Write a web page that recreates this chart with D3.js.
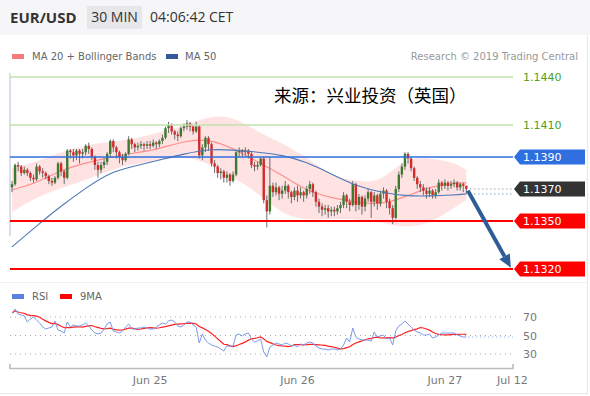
<!DOCTYPE html>
<html>
<head>
<meta charset="utf-8">
<script src="https://cdn.jsdelivr.net/npm/d3@7"></script>
<style>
  body { margin: 0; background: #fff; }
  svg text { font-family: "DejaVu Sans", sans-serif; }
  .head text { font-family: "Open Sans", sans-serif; }
</style>
</head>
<body>
<svg id="chart" width="590" height="396"></svg>
<script>
// ---- data (30 min bars, EUR/USD) ----
const firstOpen = 1.1371;
const closes = [
  1.1373,1.1385,1.1384,1.1380,1.1382,1.1380,1.1377,1.1376,1.1384,1.1381,
  1.1380,1.1378,1.1375,1.1374,1.1377,1.1386,1.1381,1.1377,1.1394,1.1393,
  1.1391,1.1394,1.1392,1.1393,1.1397,1.1395,1.1390,1.1385,1.1382,1.1385,
  1.1387,1.1392,1.1400,1.1396,1.1393,1.1390,1.1388,1.1392,1.1401,1.1398,
  1.1396,1.1397,1.1398,1.1397,1.1398,1.1397,1.1399,1.1398,1.1400,1.1402,
  1.1408,1.1410,1.1406,1.1404,1.1403,1.1408,1.1409,1.1411,1.1409,1.1406,
  1.1409,1.1391,1.1396,1.1402,1.1398,1.1386,1.1384,1.1380,1.1381,1.1377,
  1.1379,1.1375,1.1379,1.1393,1.1394,1.1393,1.1394,1.1392,1.1385,1.1384,
  1.1385,1.1389,1.1363,1.1356,1.1372,1.1368,1.1371,1.1367,1.1369,1.1372,
  1.1368,1.1365,1.1369,1.1366,1.1368,1.1366,1.1370,1.1373,1.1368,1.1362,
  1.1359,1.1357,1.1358,1.1356,1.1357,1.1356,1.1358,1.1360,1.1366,1.1362,
  1.1360,1.1373,1.1360,1.1365,1.1359,1.1364,1.1368,1.1362,1.1366,1.1361,
  1.1367,1.1369,1.1362,1.1358,1.1352,1.1370,1.1379,1.1384,1.1392,1.1389,
  1.1383,1.1377,1.1373,1.1371,1.1369,1.1367,1.1369,1.1366,1.1368,1.1374,
  1.1372,1.1374,1.1372,1.1373,1.1374,1.1371,1.1373,1.1372,1.1370
];
const highs = [
  1.1375,1.1386,1.1387,1.1385,1.1384,1.1383,1.1381,1.1379,1.1386,1.1385,
  1.1383,1.1381,1.1379,1.1377,1.1378,1.1387,1.1387,1.1382,1.1395,1.1395,
  1.1395,1.1395,1.1395,1.1395,1.1398,1.1399,1.1396,1.1391,1.1387,1.1387,
  1.1389,1.1393,1.1401,1.1401,1.1397,1.1394,1.1392,1.1393,1.1403,1.1402,
  1.1399,1.1399,1.1400,1.1399,1.1400,1.1400,1.1401,1.1400,1.1401,1.1404,
  1.1409,1.1412,1.1411,1.1407,1.1406,1.1409,1.1411,1.1413,1.1412,1.1410,
  1.1412,1.1410,1.1398,1.1403,1.1403,1.1399,1.1388,1.1385,1.1383,1.1382,
  1.1381,1.1380,1.1381,1.1394,1.1396,1.1395,1.1396,1.1395,1.1393,1.1387,
  1.1387,1.1390,1.1390,1.1366,1.1390,1.1374,1.1374,1.1372,1.1372,1.1375,
  1.1373,1.1369,1.1371,1.1372,1.1371,1.1369,1.1372,1.1375,1.1374,1.1369,
  1.1364,1.1361,1.1360,1.1360,1.1359,1.1359,1.1360,1.1362,1.1368,1.1367,
  1.1364,1.1375,1.1374,1.1367,1.1366,1.1366,1.1370,1.1369,1.1368,1.1367,
  1.1369,1.1371,1.1370,1.1364,1.1360,1.1372,1.1381,1.1386,1.1393,1.1393,
  1.1390,1.1384,1.1378,1.1375,1.1373,1.1371,1.1371,1.1370,1.1370,1.1376,
  1.1375,1.1376,1.1375,1.1375,1.1376,1.1375,1.1374,1.1374,1.1372
];
const lows = [
  1.1368,1.1372,1.1381,1.1378,1.1379,1.1378,1.1375,1.1374,1.1375,1.1379,
  1.1377,1.1376,1.1373,1.1372,1.1373,1.1376,1.1378,1.1373,1.1376,1.1389,
  1.1387,1.1388,1.1386,1.1389,1.1391,1.1392,1.1388,1.1382,1.1377,1.1380,
  1.1383,1.1385,1.1390,1.1393,1.1389,1.1386,1.1385,1.1387,1.1391,1.1395,
  1.1393,1.1394,1.1395,1.1394,1.1395,1.1395,1.1396,1.1395,1.1396,1.1398,
  1.1401,1.1405,1.1404,1.1401,1.1400,1.1402,1.1406,1.1407,1.1406,1.1404,
  1.1405,1.1389,1.1388,1.1393,1.1394,1.1384,1.1380,1.1377,1.1376,1.1374,
  1.1374,1.1372,1.1374,1.1378,1.1390,1.1390,1.1391,1.1389,1.1383,1.1381,
  1.1382,1.1384,1.1361,1.1346,1.1354,1.1365,1.1366,1.1363,1.1364,1.1367,
  1.1364,1.1361,1.1363,1.1362,1.1364,1.1362,1.1364,1.1367,1.1365,1.1359,
  1.1355,1.1353,1.1354,1.1352,1.1353,1.1353,1.1354,1.1355,1.1358,1.1358,
  1.1356,1.1359,1.1356,1.1357,1.1354,1.1356,1.1362,1.1352,1.1359,1.1357,
  1.1359,1.1364,1.1358,1.1354,1.1348,1.1351,1.1368,1.1377,1.1382,1.1386,
  1.1381,1.1375,1.1370,1.1368,1.1366,1.1364,1.1365,1.1364,1.1364,1.1367,
  1.1369,1.1370,1.1369,1.1370,1.1371,1.1369,1.1369,1.1368,1.1367
];

// indicator lines, read every 8 bars
const maIdx   = [0,8,16,24,32,40,48,56,64,72,80,88,96,104,112,120,128,136,144,148];
const ma20    = [1.13694,1.13738,1.13819,1.13863,1.13900,1.13925,1.13950,1.14000,1.14013,1.13956,
                 1.13869,1.13788,1.13688,1.13644,1.13619,1.13600,1.13650,1.13713,1.13738,1.13738];
const ma50    = [1.13338,1.13469,1.13594,1.13706,1.13806,1.13844,1.13881,1.13919,1.13950,1.13944,
                 1.13931,1.13913,1.13869,1.13794,1.13719,1.13681,1.13656,1.13656,1.13663,1.13669];
const bbUpper = [1.13831,1.13869,1.13931,1.13975,1.13994,1.14013,1.14056,1.14094,1.14156,1.14156,
                 1.14056,1.13988,1.13900,1.13781,1.13750,1.13738,1.13894,1.13894,1.13869,1.13819];
const bbLower = [1.13556,1.13650,1.13706,1.13756,1.13819,1.13856,1.13881,1.13906,1.13863,1.13769,
                 1.13681,1.13538,1.13506,1.13513,1.13513,1.13494,1.13456,1.13481,1.13581,1.13631];

const rsi = [
  74.3,78.6,73.2,72.2,71.1,64.6,67.8,70.0,66.8,63.5,
  59.2,57.0,58.1,59.2,65.7,55.9,54.9,52.7,64.6,59.2,
  61.4,60.3,60.3,61.4,63.5,60.3,55.9,52.7,51.6,52.7,
  57.0,62.4,64.6,54.9,53.8,52.7,54.9,59.2,62.4,57.0,
  57.0,58.1,58.1,59.2,58.1,57.0,57.0,59.2,61.4,63.5,
  62.4,65.7,66.8,64.6,60.3,59.2,61.4,64.6,64.6,61.4,
  59.2,41.9,51.6,45.1,41.9,39.7,38.6,37.6,35.4,33.2,
  38.6,38.6,38.6,50.5,51.6,49.5,51.6,52.7,46.2,43.0,
  44.1,46.2,32.2,26.8,37.6,39.7,41.9,40.8,39.7,41.9,
  40.8,38.6,39.7,37.6,40.8,39.7,41.9,43.0,41.9,38.6,
  36.5,35.4,35.4,34.3,35.4,35.4,34.3,35.4,39.7,47.3,
  43.0,58.1,48.4,46.2,45.1,45.1,45.1,44.1,53.8,48.4,
  49.5,50.5,46.2,47.3,39.7,54.9,60.3,62.4,65.7,62.4,
  59.2,55.9,53.8,52.7,50.5,50.5,51.6,47.3,48.4,50.5,
  52.7,52.7,52.7,52.7,52.7,50.5,49.5,48.4,48.4
];

const greenLevels = [1.1440, 1.1410];
const tagLevels   = [1.1390, 1.1370, 1.1350, 1.1320];
const rsiLevels   = [70, 50, 30];
const dateTicks   = [45, 93, 141, 163];
const dateLabels  = ["Jun 25", "Jun 26", "Jun 27", "Jul 12"];
const arrowFrom   = [148.5, 1.13690];
const arrowTo     = [162.5, 1.13208];

// ---- styles ----
const tagColors = ["#2f6fdf", "#333333", "#ff0000", "#ff0000"];
const upColor = "#3c7a30", downColor = "#d42a2a", wickColor = "#6b6b6b";

const svg = d3.select("#chart");
const x  = d3.scaleLinear().domain([0, 163]).range([12, 512.4]);
const y  = d3.scaleLinear().domain([1.1320, 1.1440]).range([269, 77]);
const yr = d3.scaleLinear().domain([30, 70]).range([354, 317]);
const x0 = 10, x1 = 513;

// header
const head = svg.append("g").attr("class", "head");
head.append("rect").attr("width", 590).attr("height", 35).attr("fill", "#f6f5f7");
head.append("text").attr("x", 10).attr("y", 23).attr("font-size", 15).attr("font-weight", "bold")
  .attr("fill", "#333").text("EUR/USD");
head.append("rect").attr("x", 87).attr("y", 6).attr("width", 55).attr("height", 23).attr("fill", "#e7e6e9");
head.append("text").attr("x", 114.5).attr("y", 22).attr("text-anchor", "middle").attr("font-size", 14)
  .attr("fill", "#333").text("30 MIN");
head.append("text").attr("x", 150).attr("y", 22).attr("font-size", 14).attr("fill", "#333").text("04:06:42 CET");

// frame
svg.append("line").attr("x1", 587.5).attr("x2", 587.5).attr("y1", 35).attr("y2", 394).attr("stroke", "#e8e8ea");
svg.append("line").attr("x1", 0).attr("x2", 588).attr("y1", 393.5).attr("y2", 393.5).attr("stroke", "#e8e8ea");
svg.append("line").attr("x1", 0).attr("x2", 588).attr("y1", 282.5).attr("y2", 282.5).attr("stroke", "#f0f0f2");

// legend
svg.append("rect").attr("x", 12).attr("y", 54).attr("width", 12).attr("height", 5).attr("fill", "#f47c7c");
svg.append("text").attr("x", 32).attr("y", 60).attr("font-size", 10).attr("fill", "#666").text("MA 20 + Bollinger Bands");
svg.append("rect").attr("x", 166).attr("y", 54).attr("width", 12).attr("height", 5).attr("fill", "#34589a");
svg.append("text").attr("x", 185).attr("y", 60).attr("font-size", 10).attr("fill", "#666").text("MA 50");
svg.append("text").attr("x", 578).attr("y", 60).attr("text-anchor", "end").attr("font-size", 10)
  .attr("fill", "#999").text("Research \u00a9 2019 Trading Central");

// left axis
svg.append("line").attr("x1", x0).attr("x2", x0).attr("y1", 73).attr("y2", 236).attr("stroke", "#b4bfd2");

// bollinger band + moving averages
const ind = maIdx.map((k, j) => ({k, ma20: ma20[j], ma50: ma50[j], up: bbUpper[j], lo: bbLower[j]}));
svg.append("path").datum(ind)
  .attr("d", d3.area().curve(d3.curveBasis).x(d => x(d.k)).y0(d => y(d.lo)).y1(d => y(d.up)))
  .attr("fill", "#ffdede").attr("opacity", 0.85);
svg.append("path").datum(ind)
  .attr("d", d3.line().curve(d3.curveBasis).x(d => x(d.k)).y(d => y(d.ma20)))
  .attr("fill", "none").attr("stroke", "#ff8f8f").attr("stroke-width", 1.2);

// candles
const bars = closes.map((c, i) => ({i, o: i ? closes[i - 1] : firstOpen, c, h: highs[i], l: lows[i]}));
const cg = svg.append("g");
cg.selectAll("line").data(bars).join("line")
  .attr("x1", d => x(d.i)).attr("x2", d => x(d.i))
  .attr("y1", d => y(Math.max(d.h, d.o, d.c))).attr("y2", d => y(Math.min(d.l, d.o, d.c)))
  .attr("stroke", wickColor).attr("stroke-width", 1);
cg.selectAll("rect").data(bars).join("rect")
  .attr("x", d => x(d.i) - 1.2).attr("width", 2.4)
  .attr("y", d => y(Math.max(d.o, d.c)))
  .attr("height", d => Math.max(1, Math.abs(y(d.o) - y(d.c))))
  .attr("fill", d => d.c >= d.o ? upColor : downColor);

svg.append("path").datum(ind)
  .attr("d", d3.line().curve(d3.curveBasis).x(d => x(d.k)).y(d => y(d.ma50)))
  .attr("fill", "none").attr("stroke", "#4f78b8").attr("stroke-width", 1.1);

// levels
svg.selectAll(".green").data(greenLevels).join("line").attr("class", "green")
  .attr("x1", x0).attr("x2", x1).attr("y1", d => y(d)).attr("y2", d => y(d))
  .attr("stroke", "#c2e0ad").attr("stroke-width", 1.5);
svg.selectAll(".glab").data(greenLevels).join("text").attr("class", "glab")
  .attr("x", 523).attr("y", d => y(d) + 4).attr("font-size", 11).attr("fill", "#4fa21a")
  .text(d => d.toFixed(4));

const lastClose = closes[closes.length - 1];
const lastMa50 = ma50[ma50.length - 1];
svg.append("line").attr("x1", x(148) + 4).attr("x2", 514).attr("y1", y(lastClose)).attr("y2", y(lastClose))
  .attr("stroke", "#777").attr("stroke-dasharray", "1,3");
svg.append("line").attr("x1", x(148) + 4).attr("x2", 514).attr("y1", y(lastMa50)).attr("y2", y(lastMa50))
  .attr("stroke", "#4f78b8").attr("stroke-dasharray", "1,3");

tagLevels.forEach((p, k) => {
  const yy = y(p);
  if (k !== 1) {
    svg.append("line").attr("x1", x0).attr("x2", x1).attr("y1", yy).attr("y2", yy)
      .attr("stroke", tagColors[k]).attr("stroke-width", k === 0 ? 1.3 : 2.2);
  }
  svg.append("path")
    .attr("d", `M514,${yy} L520,${yy - 7.5} L585,${yy - 7.5} L585,${yy + 7.5} L520,${yy + 7.5} Z`)
    .attr("fill", tagColors[k]);
  svg.append("text").attr("x", 523).attr("y", yy + 4).attr("font-size", 11).attr("fill", "#fff")
    .text(p.toFixed(4));
});

// forecast arrow
const ax0 = x(arrowFrom[0]), ay0 = y(arrowFrom[1]), ax1 = x(arrowTo[0]), ay1 = y(arrowTo[1]);
const ang = Math.atan2(ay1 - ay0, ax1 - ax0);
const hl = 13, hw = 6;
const bx = ax1 - hl * Math.cos(ang), by = ay1 - hl * Math.sin(ang);
svg.append("line").attr("x1", ax0).attr("y1", ay0).attr("x2", bx).attr("y2", by)
  .attr("stroke", "#2e5c98").attr("stroke-width", 4);
svg.append("path")
  .attr("d", `M${ax1},${ay1} L${bx - hw * Math.sin(ang)},${by + hw * Math.cos(ang)} L${bx + hw * Math.sin(ang)},${by - hw * Math.cos(ang)} Z`)
  .attr("fill", "#2e5c98");

// source note
svg.append("text").attr("x", 274).attr("y", 102).attr("font-size", 17.5).attr("fill", "#000")
  .style("font-family", "'Noto Sans CJK SC', sans-serif").text("来源：兴业投资（英国）");

// RSI panel
svg.append("rect").attr("x", 12).attr("y", 294).attr("width", 12).attr("height", 5).attr("fill", "#5b80e0");
svg.append("text").attr("x", 32).attr("y", 300).attr("font-size", 10).attr("fill", "#666").text("RSI");
svg.append("rect").attr("x", 60).attr("y", 294).attr("width", 12).attr("height", 5).attr("fill", "#ff0000");
svg.append("text").attr("x", 80).attr("y", 300).attr("font-size", 10).attr("fill", "#666").text("9MA");

svg.selectAll(".rg").data(rsiLevels).join("line").attr("class", "rg")
  .attr("x1", x0).attr("x2", x1).attr("y1", d => yr(d)).attr("y2", d => yr(d))
  .attr("stroke", "#aaa").attr("stroke-dasharray", "1,4");
svg.selectAll(".rl").data(rsiLevels).join("text").attr("class", "rl")
  .attr("x", 523).attr("y", d => yr(d) + 4).attr("font-size", 11).attr("fill", "#777").text(d => d);

const rsiMa = rsi.map((v, i) => d3.mean(rsi.slice(Math.max(0, i - 8), i + 1)));
svg.append("path").datum(rsiMa)
  .attr("d", d3.line().x((d, i) => x(i)).y(d => yr(d)))
  .attr("fill", "none").attr("stroke", "#ff2020").attr("stroke-width", 1.2);
svg.append("path").datum(rsi)
  .attr("d", d3.line().x((d, i) => x(i)).y(d => yr(d)))
  .attr("fill", "none").attr("stroke", "#7b9ae8").attr("stroke-width", 1);
svg.append("line").attr("x1", x(148) + 2).attr("x2", x1).attr("y1", yr(rsi[rsi.length - 1])).attr("y2", yr(rsi[rsi.length - 1]))
  .attr("stroke", "#7b9ae8").attr("stroke-dasharray", "1,3");

// time axis
svg.append("path").attr("d", `M${x0},364 V368.5 H${x1} V364`).attr("fill", "none")
  .attr("stroke", "#bbb").attr("stroke-width", 1.6);
svg.selectAll(".dl").data(dateTicks).join("text").attr("class", "dl")
  .attr("x", d => x(d)).attr("y", 384).attr("text-anchor", "middle").attr("font-size", 11).attr("fill", "#777")
  .text((d, k) => dateLabels[k]);
</script>
</body>
</html>
